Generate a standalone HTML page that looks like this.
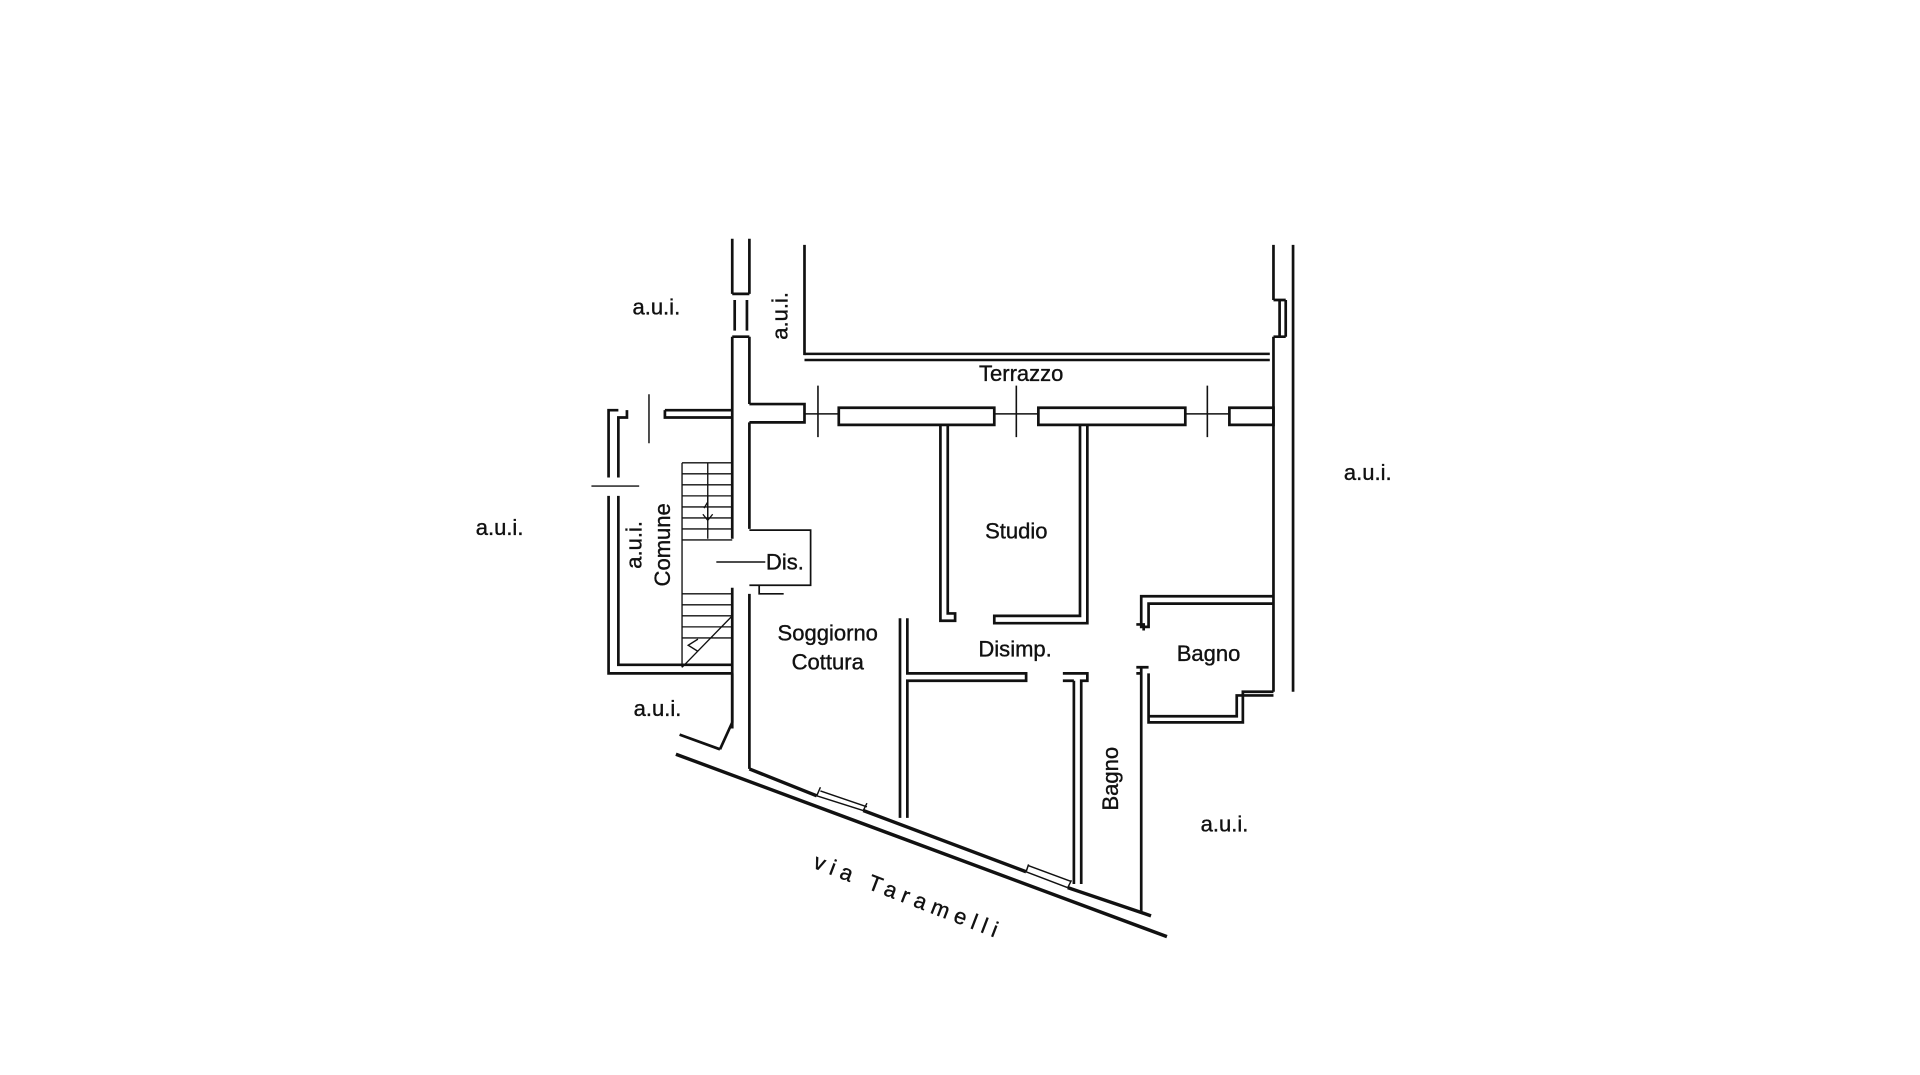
<!DOCTYPE html>
<html><head><meta charset="utf-8"><style>
html,body{margin:0;padding:0;background:#fff;}
svg{display:block}
text{font-family:"Liberation Sans",Arial,sans-serif;font-size:18px;fill:#111;stroke:#111;stroke-width:0.3}
</style></head><body>
<svg width="1920" height="1075" viewBox="0 0 1568 878" preserveAspectRatio="none">
<g fill="none" stroke="#111" stroke-width="2.2">
<path d="M598 195V240M612 195V240M598 275V330M612 275V330M598 240H612M598 275H612M600 245V270M610 245V270"/>
<path d="M657 200V290"/>
<path d="M657 289H1037M657 294H1037" stroke-width="2"/>
<path d="M1040 200V245M1040 275V565M1056 200V565M1040 245H1050M1040 275H1050M1045 245V275M1050 245V275"/>
<path d="M612 330H657V345H612M657 331V345"/>
<path d="M685 333H812V347H685Z M848 333H968V347H848Z M1004 333H1040V347H1004Z"/>
<path d="M657 338H685M812 338H848M968 338H1004" stroke-width="1.2"/>
<path d="M668 315V357M830 315V357M986 315V357" stroke-width="1.3"/>
<path d="M612 345V432M598 330V440M612 485V628M598 480V595"/>
<path d="M612 433H662V478H612M620 478V485H640" stroke-width="1.4"/>
<path d="M585 459H625" stroke-width="1.3"/>
<path d="M505 335H497V390M512 335V341H505V390M543 335V341H598M543 335H598"/>
<path d="M497 405V550H598M505 405V543H598"/>
<path d="M483 397H522M530 322V362" stroke-width="1.2"/>
<g stroke-width="1.1">
<path d="M557 378H598M557 378V545M578 378V440"/>
<path d="M557 387H598M557 396H598M557 405H598M557 414H598M557 423H598M557 432H598M557 441H598"/>
<path d="M557 485H598M557 494H598M557 503H598M557 512H598M557 521H598M557 545L598 503"/>
<path d="M578 405V425M574 420L578 425L582 420M575 415L578 410"/>
<path d="M570 522L562 527L570 532"/>
</g>
<path d="M598 550V590L588 612M555 600L588 612"/>
<path d="M552 616L953 765" stroke-width="2.8"/>
<path d="M612 628L667 650M705 662L838 712M872 725L940 748" stroke-width="2.8"/>
<path d="M667 650L705 662M670 646L708 659M667 650L670 643M705 662L708 656" stroke-width="1.2"/>
<path d="M838 712L872 725M840 707L875 720M838 712L840 706M872 725L875 719" stroke-width="1.2"/>
<path d="M768 347V507H780V501H774V347M882 347V503H812V509H888V347"/>
<path d="M1040 487H932V512H938V493H1040M928 510H934V515"/>
<path d="M932 545V745M938 550V590H1015V565H1040M938 585H1010V568H1040"/>
<path d="M928 545H938M928 550H932"/>
<path d="M735 505V668M741 505V550H838V556H741V668"/>
<path d="M868 550H888V556H883V722M877 556V722M868 556H877"/>
</g>
<text x="536" y="257" text-anchor="middle">a.u.i.</text>
<text transform="translate(643,258) rotate(-90)" text-anchor="middle">a.u.i.</text>
<text x="834" y="311" text-anchor="middle">Terrazzo</text>
<text x="1117" y="392" text-anchor="middle">a.u.i.</text>
<text x="408" y="437" text-anchor="middle">a.u.i.</text>
<text x="830" y="440" text-anchor="middle">Studio</text>
<text x="641" y="465" text-anchor="middle">Dis.</text>
<text transform="translate(524,445) rotate(-90)" text-anchor="middle">a.u.i.</text>
<text transform="translate(547,445) rotate(-90)" text-anchor="middle">Comune</text>
<text x="676" y="523" text-anchor="middle">Soggiorno</text>
<text x="676" y="547" text-anchor="middle">Cottura</text>
<text x="829" y="536" text-anchor="middle">Disimp.</text>
<text x="987" y="540" text-anchor="middle">Bagno</text>
<text x="537" y="585" text-anchor="middle">a.u.i.</text>
<text transform="translate(913,636) rotate(-90)" text-anchor="middle">Bagno</text>
<text x="1000" y="679" text-anchor="middle">a.u.i.</text>
<text transform="translate(740,738) rotate(21)" text-anchor="middle" style="letter-spacing:5px;font-size:18px">via Taramelli</text>
</svg>
</body></html>
